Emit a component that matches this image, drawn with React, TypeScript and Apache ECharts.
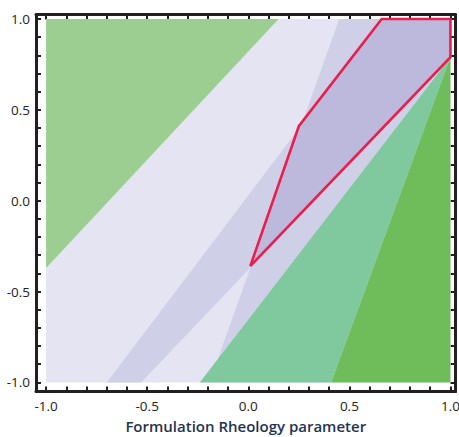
import React, { useEffect, useRef } from "react";
import * as echarts from "echarts";

// Tick labels
const tickLabels = ["-1.0", "-0.5", "0.0", "0.5", "1.0"];
const xTitle = "Formulation Rheology parameter";

// Region vertices, in data coordinates [x, y]
const backgroundBox = [[-1, -1], [1, -1], [1, 1], [-1, 1]];
const upperLeftGreen = [[-1, 1], [0.15, 1], [-1, -0.37]];
const bandA = [[-0.7, -1], [0.66, 1], [1, 1], [1, 0.79], [-0.53, -1]];
const wedgeB = [[-0.15, -0.87], [0.45, 1], [1, 1], [1, 0.79]];
const overlapRegion = [[0.01, -0.36], [0.25, 0.41], [0.66, 1], [1, 1], [1, 0.79]];
const tealGreen = [[-0.24, -1], [1, 0.79], [0.41, -1]];
const darkGreen = [[0.41, -1], [1, 0.79], [1, -1]];
const redOutline = [[0.01, -0.36], [0.25, 0.41], [0.66, 1], [1, 1], [1, 0.79], [0.01, -0.36]];

const polygons: { verts: number[][]; color: string }[] = [
  { verts: backgroundBox, color: "#e4e4f2" },
  { verts: upperLeftGreen, color: "#9bce90" },
  { verts: bandA, color: "#cfd0e8" },
  { verts: wedgeB, color: "#cfd0e8" },
  { verts: overlapRegion, color: "#bcb9dc" },
  { verts: tealGreen, color: "#80c99f" },
  { verts: darkGreen, color: "#6fbd5a" },
];

const FRAME = "#231f20";
const FONT = "Open Sans";

function axisCommon(showLabel: boolean, position: string) {
  return {
    type: "value",
    min: -1.05,
    max: 1.025,
    splitNumber: 4,
    position,
    axisLine: { show: true, onZero: false, lineStyle: { color: FRAME, width: 3 } },
    axisTick: { show: true, inside: true, length: 5, lineStyle: { color: FRAME, width: 2 } },
    minorTick: { show: true, splitNumber: 5, length: 5, lineStyle: { color: FRAME, width: 2 } },
    splitLine: { show: false },
    minorSplitLine: { show: false },
    axisLabel: {
      show: showLabel,
      color: "#222222",
      fontFamily: FONT,
      fontSize: 13.5,
      formatter: (v: number) => {
        const k = Math.round(v * 2);
        if (Math.abs(v * 2 - k) > 1e-6) return "";
        return tickLabels[k + 2] ?? "";
      },
    },
  };
}

export default function App() {
  const ref = useRef<HTMLDivElement>(null);
  useEffect(() => {
    document.body.style.margin = "0";
    if (!ref.current) return;
    const chart = echarts.init(ref.current, null, { renderer: "svg" });
    const series: any[] = polygons.map((p) => ({
      type: "custom",
      coordinateSystem: "cartesian2d",
      xAxisIndex: 0,
      yAxisIndex: 0,
      data: p.verts,
      encode: { x: 0, y: 1 },
      silent: true,
      renderItem: (params: any, api: any) => {
        if (params.dataIndex !== 0) return null;
        const pts = p.verts.map((v) => api.coord(v));
        return { type: "polygon", shape: { points: pts }, style: { fill: p.color } };
      },
    }));
    series.push({
      type: "line",
      xAxisIndex: 0,
      yAxisIndex: 0,
      data: redOutline,
      symbol: "none",
      lineStyle: { color: "#e91e4c", width: 2.6, join: "miter" },
      silent: true,
      z: 5,
    });
    chart.setOption({
      animation: false,
      grid: {
        left: 36,
        top: 14.5,
        width: 419.5,
        height: 377,
        containLabel: false,
        outerBoundsMode: "none",
      },
      xAxis: [
        {
          ...axisCommon(true, "bottom"),
          axisLabel: { ...axisCommon(true, "bottom").axisLabel, margin: 7 },
          name: xTitle,
          nameLocation: "middle",
          nameGap: 27,
          nameTextStyle: { color: "#1e3350", fontFamily: FONT, fontSize: 15, fontWeight: 600 },
        },
        { ...axisCommon(false, "top") },
      ],
      yAxis: [
        {
          ...axisCommon(true, "left"),
          axisLabel: { ...axisCommon(true, "left").axisLabel, margin: 6 },
        },
        { ...axisCommon(false, "right") },
      ],
      series,
    });
    return () => chart.dispose();
  }, []);
  return <div ref={ref} style={{ width: 459, height: 437 }} />;
}
